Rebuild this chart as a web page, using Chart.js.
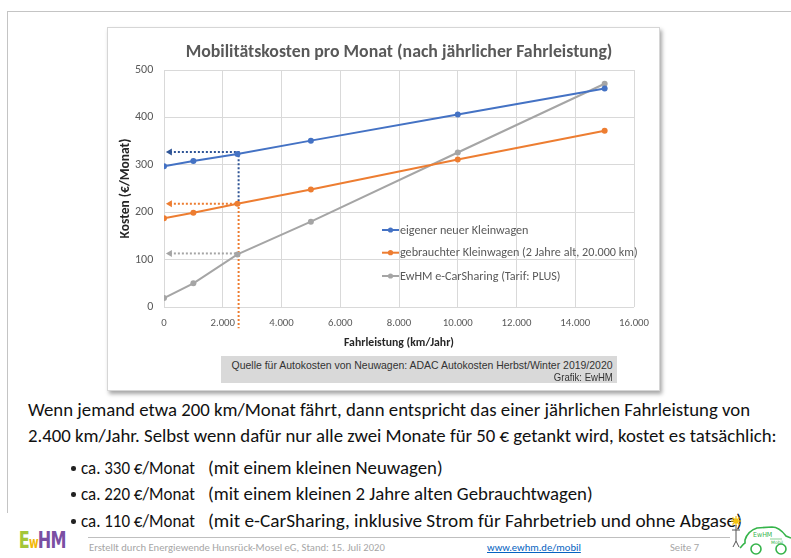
<!DOCTYPE html>
<html>
<head>
<meta charset="utf-8">
<script src="https://cdn.jsdelivr.net/npm/chart.js@4.4.1/dist/chart.umd.min.js"></script>
<style>
  html, body { margin: 0; padding: 0; background: #fff; }
  body { width: 791px; height: 558px; position: relative; overflow: hidden;
         font-family: Carlito, Lato, "Open Sans", sans-serif; color: #111; }
  .slide-frame { position: absolute; left: 7px; top: 11px; width: 800px; height: 501px;
                 border-top: 1.5px solid #c4c4c4; border-left: 1.5px solid #c4c4c4; }
  #chartBox { position: absolute; left: 107px; top: 27px; width: 551px; height: 362px;
              border: 1px solid #d6d6d6; background: #fff;
              box-shadow: 2px 3px 4px rgba(0,0,0,0.35); }
  #chartBox canvas { position: absolute; left: 0; top: 0; }
  .tx { position: absolute; white-space: nowrap; line-height: 22px; transform-origin: 0 50%; }
  .tx.r { transform-origin: 100% 50%; }
  .body { font-size: 18px; color: #111; }
  .bullet { position: absolute; width: 8px; height: 4.5px; }
  .bullet::before { content: ""; position: absolute; left: 0; top: 0; width: 4.5px; height: 4.5px;
                    border-radius: 50%; background: #222; }
  .foot { font-size: 11px; line-height: 14px; color: #a6a6a6; }
  .src { position: absolute; left: 221px; top: 356px; width: 396px; height: 27px; background: #d9d9d9; }
  .src .tx { font-family: "Liberation Sans", Arial, sans-serif; font-size: 11px; line-height: 13px; color: #333; right: 4px; }
  .rule { position: absolute; left: 88px; top: 537px; width: 642px; height: 1px; background: #bfbfbf; }
  .logo { position: absolute; left: 12px; top: 527px; font: bold 23px "DejaVu Sans Condensed", "DejaVu Sans", sans-serif;
          line-height: 26px; letter-spacing: -1px; }
</style>
</head>
<body>
<div class="slide-frame"></div>

<div id="chartBox"><canvas id="chart" width="551" height="362"></canvas></div>

<div class="src">
  <div class="tx r" style="top:3px" data-w="381">Quelle für Autokosten von Neuwagen: ADAC Autokosten Herbst/Winter 2019/2020</div>
  <div class="tx r" style="top:15px" data-w="59">Grafik: EwHM</div>
</div>

<div class="tx body" style="left:28px;top:399px">Wenn jemand etwa 200 km/Monat fährt, dann entspricht das einer jährlichen Fahrleistung von</div>
<div class="tx body" id="bodyRef" style="left:28px;top:425px">2.400 km/Jahr. Selbst wenn dafür nur alle zwei Monate für 50 € getankt wird, kostet es tatsächlich:</div>

<div class="bullet" style="left:71px;top:466px"></div>
<div class="tx body" style="left:81px;top:457px" data-w="114">ca. 330 €/Monat</div>
<div class="tx body" style="left:208px;top:457px">(mit einem kleinen Neuwagen)</div>

<div class="bullet" style="left:71px;top:492px"></div>
<div class="tx body" style="left:81px;top:483px" data-w="114">ca. 220 €/Monat</div>
<div class="tx body" style="left:208px;top:483px">(mit einem kleinen 2 Jahre alten Gebrauchtwagen)</div>

<div class="bullet" style="left:71px;top:519px"></div>
<div class="tx body" style="left:81px;top:510px" data-w="114">ca. 110 €/Monat</div>
<div class="tx body" style="left:208px;top:510px" data-w="534">(mit e-CarSharing, inklusive Strom für Fahrbetrieb und ohne Abgase)</div>

<div class="rule"></div>
<div class="tx foot" id="footRef" style="left:89px;top:541px">Erstellt durch Energiewende Hunsrück-Mosel eG, Stand: 15. Juli 2020</div>
<div class="tx foot" style="left:487px;top:541px;color:#0563c1;text-decoration:underline">www.ewhm.de/mobil</div>
<div class="tx foot" style="left:670px;top:541px">Seite 7</div>

<div class="logo" data-w="47"><span style="color:#a4c639">E</span><span style="color:#f2b705;font-size:15px">w</span><span style="color:#7a4fa3">HM</span></div>

<svg style="position:absolute;left:728px;top:514px" width="63" height="44" viewBox="0 0 63 44">
  <g stroke="#f4c20d" stroke-width="1.2">
    <line x1="8" y1="2" x2="8" y2="12"/><line x1="3" y1="7" x2="13" y2="7"/>
    <line x1="4.5" y1="3.5" x2="11.5" y2="10.5"/><line x1="11.5" y1="3.5" x2="4.5" y2="10.5"/>
  </g>
  <circle cx="8" cy="7" r="2.6" fill="#f4c20d"/>
  <g stroke="#555" stroke-width="1" fill="none">
    <line x1="8" y1="11" x2="8" y2="27"/><line x1="4" y1="16" x2="12" y2="16"/>
    <line x1="8" y1="27" x2="5" y2="33"/><line x1="8" y1="27" x2="11" y2="33"/>
  </g>
  <path d="M12 34 C14 32 15 30 17 29 L17 26 C19 19 23 16 29 14 L44 13 C50 13 55 18 58 22 L63 24" stroke="#35b44a" stroke-width="1.6" fill="none"/>
  <circle cx="28" cy="35" r="5" stroke="#35b44a" stroke-width="1.6" fill="#fff"/>
  <circle cx="53" cy="35" r="5" stroke="#35b44a" stroke-width="1.6" fill="#fff"/>
  <text x="25" y="23" font-size="7" fill="#35b44a" font-family="DejaVu Sans Condensed, sans-serif">EwHM</text>
  <line x1="42" y1="25" x2="54" y2="25" stroke="#35b44a" stroke-width="0.6"/>
  <text x="43" y="30" font-size="4.5" fill="#35b44a" font-family="DejaVu Sans, sans-serif">Mobil</text>
</svg>

<script>
// Yearly mileage (km/Jahr) at which monthly costs were computed
const kmPerYear = [0, 1000, 2500, 5000, 10000, 15000];

// Monthly costs (€/Monat)
const costNewCar = [297, 308, 323, 351, 406, 461];
const costUsedCar = [187, 199, 218, 248, 311, 372];
const costCarSharing = [19, 50, 111, 180, 326, 471];

const seriesLabels = [
  'eigener neuer Kleinwagen',
  'gebrauchter Kleinwagen (2 Jahre alt, 20.000 km)',
  'EwHM e-CarSharing (Tarif: PLUS)'
];

// Reading guides for a mileage of about 2.400–2.500 km/Jahr
const guideKm = 2540;
const guideArrowKm = 200;
const guideNew = 327;
const guideUsed = 218;
const guideShare = 113;
const guideUsedBottom = -45;

const xTicksMax = 16000;
const xTickStep = 2000;
const yTicksMax = 500;
const yTickStep = 100;

const chartTitle = 'Mobilitätskosten pro Monat (nach jährlicher Fahrleistung)';
const xTitle = 'Fahrleistung (km/Jahr)';
const yTitle = 'Kosten (€/Monat)';

const FAMILY = 'Carlito, Lato, "Open Sans", sans-serif';
const measureCtx = document.createElement('canvas').getContext('2d');
function fitSize(text, weight, target) {
  measureCtx.font = weight + ' 100px ' + FAMILY;
  return 100 * target / measureCtx.measureText(text).width;
}

const titleSize = fitSize(chartTitle, 'bold', 427);
const xTickSize = fitSize('10.000', 'normal', 30);
const yTickSize = fitSize('500', 'normal', 18.3);
const xTitleSize = fitSize(xTitle, 'bold', 110);
const yTitleSize = fitSize(yTitle, 'bold', 100);
const legendSize = fitSize(seriesLabels[1], 'normal', 238);

const BLUE = '#4472c4', ORANGE = '#ed7d31', GRAY = '#a5a5a5';

const pts = (ys) => kmPerYear.map((x, i) => ({ x, y: ys[i] }));

function mainSeries(label, ys, color) {
  return {
    label, data: pts(ys), borderColor: color, backgroundColor: color,
    borderWidth: 2, pointRadius: 3, pointBorderWidth: 0, pointHoverRadius: 3,
    tension: 0, order: 0, isMain: true
  };
}
function guide(data, color) {
  return {
    data, borderColor: color, backgroundColor: color, borderWidth: 2,
    borderDash: [2, 2], pointStyle: 'triangle', pointRotation: 270,
    pointRadius: data.map((_, i) => i === 0 ? 4 : 0), pointBorderWidth: 0,
    order: 1, clip: false, isMain: false
  };
}

const fmtKm = v => String(v).replace(/\B(?=(\d{3})+(?!\d))/g, '.');

// Title centred over the plot area and legend inside the plot
const overlay = {
  id: 'overlay',
  afterDraw(chart) {
    const { ctx, chartArea } = chart;
    ctx.save();
    ctx.fillStyle = '#595959';
    ctx.font = 'bold ' + titleSize + 'px ' + FAMILY;
    ctx.textAlign = 'center';
    ctx.textBaseline = 'alphabetic';
    ctx.fillText(chartTitle, (chartArea.left + chartArea.right) / 2, 29.3);

    const rows = [202, 224.7, 248];
    ctx.font = legendSize + 'px ' + FAMILY;
    ctx.textAlign = 'left';
    ctx.textBaseline = 'middle';
    chart.data.datasets.filter(d => d.isMain).forEach((d, i) => {
      const y = rows[i];
      ctx.strokeStyle = d.borderColor;
      ctx.lineWidth = 2;
      ctx.beginPath(); ctx.moveTo(274, y); ctx.lineTo(291, y); ctx.stroke();
      ctx.fillStyle = d.borderColor;
      ctx.beginPath(); ctx.arc(282.5, y, 2.6, 0, Math.PI * 2); ctx.fill();
      ctx.fillStyle = '#595959';
      ctx.fillText(d.label, 292, y + 0.5);
    });
    ctx.restore();
  }
};

Chart.defaults.font.family = FAMILY;

new Chart(document.getElementById('chart'), {
  type: 'line',
  data: {
    datasets: [
      mainSeries(seriesLabels[0], costNewCar, BLUE),
      mainSeries(seriesLabels[1], costUsedCar, ORANGE),
      mainSeries(seriesLabels[2], costCarSharing, GRAY),
      guide([{ x: guideArrowKm, y: guideNew }, { x: guideKm, y: guideNew }, { x: guideKm, y: guideUsed }], '#2f5597'),
      guide([{ x: guideArrowKm, y: guideUsed }, { x: guideKm, y: guideUsed }, { x: guideKm, y: guideUsedBottom }], ORANGE),
      guide([{ x: guideArrowKm, y: guideShare }, { x: guideKm, y: guideShare }], GRAY)
    ]
  },
  options: {
    responsive: false,
    devicePixelRatio: 1,
    animation: false,
    events: [],
    layout: { padding: { left: 0, right: 24, top: 42, bottom: 0 } },
    plugins: { legend: { display: false }, title: { display: false }, tooltip: { enabled: false } },
    scales: {
      x: {
        type: 'linear', min: 0, max: xTicksMax,
        afterFit(scale) { scale.height = 83; },
        grid: { color: '#d9d9d9', drawTicks: false },
        border: { display: false },
        ticks: { stepSize: xTickStep, padding: 10, color: '#595959',
                 font: { size: xTickSize }, callback: v => fmtKm(v), maxRotation: 0 },
        title: { display: true, text: xTitle, color: '#262626',
                 font: { size: xTitleSize, weight: 'bold' }, padding: { top: 0, bottom: 40 } }
      },
      y: {
        min: 0, max: yTicksMax,
        afterFit(scale) { scale.width = 56; },
        grid: { color: '#d9d9d9', drawTicks: false },
        border: { display: false },
        ticks: { stepSize: yTickStep, padding: 10.7, color: '#595959', font: { size: yTickSize } },
        title: { display: true, text: yTitle, color: '#262626',
                 font: { size: yTitleSize, weight: 'bold' }, padding: { top: 10, bottom: 0 } }
      }
    }
  },
  plugins: [overlay]
});

// Body text: one common size so the second paragraph line spans 749px
const bodyRef = document.getElementById('bodyRef');
const bodySize = 18 * 749 / bodyRef.getBoundingClientRect().width;
document.querySelectorAll('.body').forEach(el => { el.style.fontSize = bodySize + 'px'; });

// Footer: one common size so the credit line spans 296px
const footRef = document.getElementById('footRef');
const footSize = 11 * 296 / footRef.getBoundingClientRect().width;
document.querySelectorAll('.foot').forEach(el => { el.style.fontSize = footSize + 'px'; });

// Fit individual text runs to their set widths
document.querySelectorAll('[data-w]').forEach(el => {
  const w = el.getBoundingClientRect().width;
  el.style.transform = 'scaleX(' + (+el.dataset.w / w) + ')';
});
</script>
</body>
</html>
